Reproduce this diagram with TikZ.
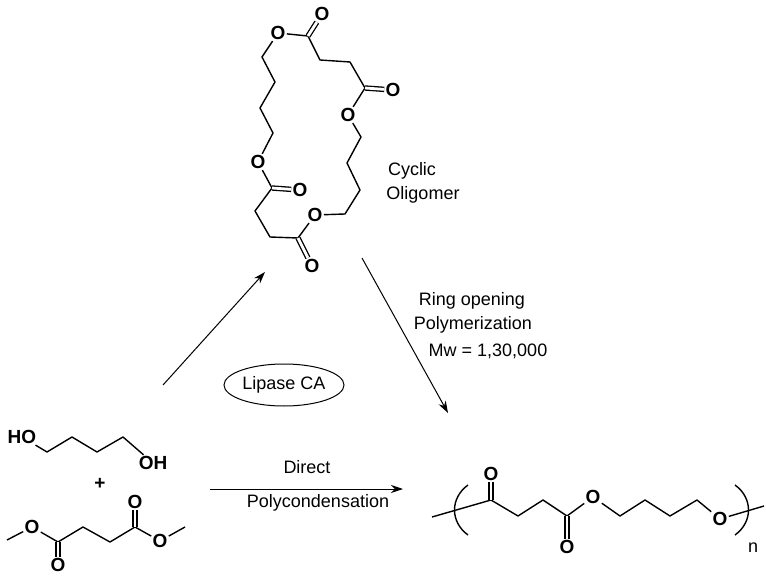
\documentclass[tikz,border=0pt]{standalone}
\usepackage{fontspec}
\setmainfont{Liberation Sans}
\usetikzlibrary{arrows.meta,shapes.geometric}
\begin{document}
\begin{tikzpicture}[x=1pt,y=-1pt,
  bond/.style={line width=1.4pt, line join=round},
  dbl/.style={line width=1.3pt, double distance=2.8pt},
  atom/.style={font=\bfseries\fontsize{19}{19}\selectfont, inner sep=1.2pt},
  lbl/.style={font=\fontsize{18}{20}\selectfont, inner sep=0pt},
  rxn/.style={line width=1pt, -{Stealth[length=12pt,width=8pt]}}]
\useasboundingbox (0,0) rectangle (766,580);

% ---------- cyclic oligomer ----------
\node[atom] (O1) at (322,14) {O};
\node[atom] (Oa) at (278,33) {O};
\node[atom] (O2) at (393,90) {O};
\node[atom] (Ob) at (348,115) {O};
\node[atom] (Oc) at (315,215) {O};
\node[atom] (O3) at (312,266) {O};
\node[atom] (O4) at (300,190) {O};
\node[atom] (Od) at (258,162) {O};
\coordinate (C1) at (308,36);
\coordinate (C2) at (320,60);
\coordinate (C3) at (350,62);
\coordinate (C4) at (365,88);
\coordinate (R1) at (361,137);
\coordinate (R2) at (347,163);
\coordinate (R3) at (360,190);
\coordinate (R4) at (345,214);
\coordinate (C5) at (298,238);
\coordinate (C6) at (270,237);
\coordinate (C7) at (255,211);
\coordinate (C8) at (272,188);
\coordinate (L4) at (273,133);
\coordinate (L3) at (260,108);
\coordinate (L2) at (275,82);
\coordinate (L1) at (262,57);
\draw[bond] (Oa) -- (C1) -- (C2) -- (C3) -- (C4) -- (Ob);
\draw[bond] (Ob) -- (R1) -- (R2) -- (R3) -- (R4) -- (Oc);
\draw[bond] (Oc) -- (C5) -- (C6) -- (C7) -- (C8) -- (Od);
\draw[bond] (Od) -- (L4) -- (L3) -- (L2) -- (L1) -- (Oa);
\draw[dbl] (C1) -- (O1);
\draw[dbl] (C4) -- (O2);
\draw[dbl] (C5) -- (O3);
\draw[dbl] (C8) -- (O4);
\node[lbl] (cyc) at (412,171) {Cyclic};
\node[lbl] (olig) at (423,195) {Oligomer};

% ---------- butanediol ----------
\node[atom] (HO) at (22,437) {HO};
\node[atom] (OH) at (153,463) {OH};
\coordinate (B1) at (47,452);
\coordinate (B2) at (72,437);
\coordinate (B3) at (97,452);
\coordinate (B4) at (123,437);
\draw[bond] (HO) -- (B1) -- (B2) -- (B3) -- (B4) -- (OH);
\node[atom] (plus) at (100,484) {+};

% ---------- dimethyl succinate ----------
\coordinate (M1) at (7,540);
\node[atom] (DO1) at (32,527) {O};
\coordinate (D1) at (58,542);
\node[atom] (DO2) at (58,565) {O};
\coordinate (D2) at (83,527);
\coordinate (D3) at (110,542);
\coordinate (D4) at (135,527);
\node[atom] (DO3) at (135,502) {O};
\node[atom] (DO4) at (160,541) {O};
\coordinate (M2) at (185,527);
\draw[bond] (M1) -- (DO1) -- (D1) -- (D2) -- (D3) -- (D4) -- (DO4) -- (M2);
\draw[dbl] (D1) -- (DO2);
\draw[dbl] (D4) -- (DO3);

% ---------- polymer ----------
\coordinate (P0) at (432,517);
\coordinate (Pa) at (491,500);
\node[atom] (PO1) at (491,474) {O};
\coordinate (Pb) at (518,516);
\coordinate (Pc) at (543,500);
\coordinate (Pd) at (567,516);
\node[atom] (PO2) at (567,547) {O};
\node[atom] (PO3) at (593,497) {O};
\coordinate (Pf) at (620,516);
\coordinate (Pg) at (645,500);
\coordinate (Ph) at (670,516);
\coordinate (Pi) at (697,500);
\node[atom] (PO4) at (720,519) {O};
\coordinate (Pz) at (764,506);
\draw[bond] (P0) -- (Pa) -- (Pb) -- (Pc) -- (Pd) -- (PO3) -- (Pf) -- (Pg) -- (Ph) -- (Pi) -- (PO4) -- (Pz);
\draw[dbl] (Pa) -- (PO1);
\draw[dbl] (Pd) -- (PO2);
\coordinate (LP1) at (468,485);
\coordinate (LP2) at (468,535);
\coordinate (RP1) at (735,485);
\coordinate (RP2) at (735,535);
\draw[bond] (LP1) .. controls (450,498) and (450,522) .. (LP2);
\draw[bond] (RP1) .. controls (753,498) and (753,522) .. (RP2);
\node[lbl] (n) at (753,548) {n};

% ---------- arrows and labels ----------
\coordinate (A1s) at (163,385);
\coordinate (A1e) at (265,272);
\coordinate (A2s) at (362,258);
\coordinate (A2e) at (448,413);
\coordinate (A3s) at (210,489);
\coordinate (A3e) at (403,489);
\draw[rxn] (A1s) -- (A1e);
\draw[rxn] (A2s) -- (A2e);
\draw[rxn] (A3s) -- (A3e);
\node[lbl, draw, ellipse, line width=1pt, minimum width=120pt, minimum height=42pt] (lip) at (284,385) {Lipase CA};
\node[lbl] (dir) at (307,467) {Direct};
\node[lbl] (poly) at (318,503) {Polycondensation};
\node[lbl] (ring) at (472,301) {Ring opening};
\node[lbl] (polym) at (473,325) {Polymerization};
\node[lbl] (mw) at (488,351) {Mw = 1,30,000};
\end{tikzpicture}
\end{document}
